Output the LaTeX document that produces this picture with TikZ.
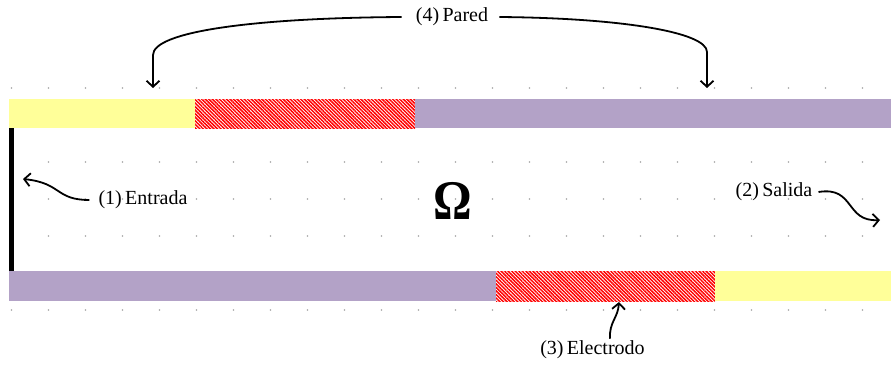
\documentclass[tikz,border=0pt]{standalone}
\usepackage{graphicx}
\usepackage{fontspec}
\setmainfont{Liberation Serif}
\usetikzlibrary{patterns.meta,arrows.meta}
\definecolor{wallyellow}{RGB}{255,255,153}
\definecolor{wallpurple}{RGB}{179,162,199}
\definecolor{dotgray}{RGB}{165,165,165}
\begin{document}
\begin{tikzpicture}[x=1pt,y=-1pt,
  lbl/.style={font=\fontsize{20}{22}\selectfont, inner sep=0pt, anchor=center},
  conn/.style={line width=1.8pt, -{Straight Barb[length=6pt,width=13pt,line width=1.8pt]}},
  yellowseg/.style={fill=wallyellow},
  purpleseg/.style={fill=wallpurple},
  electrodeseg/.style={pattern={Lines[angle=-45,distance=2.5pt,line width=1.5pt]}, pattern color=red},
  griddot/.style={fill=dotgray}]
\useasboundingbox (0,0) rectangle (891,364);
\fill[white] (0,0) rectangle (891,364);
% grid dots
\foreach \i in {0,...,23}
  \foreach \j in {0,...,6}
    \fill[griddot] (11.5+37*\i, 88+37*\j) circle (0.8pt);
% top wall
\fill[yellowseg] (9,99) rectangle (195,128);
\fill[white] (195,99) rectangle (415,128);
\fill[electrodeseg] (195,99) rectangle (415,128);
\fill[purpleseg] (415,99) rectangle (891,128);
% bottom wall
\fill[purpleseg] (9,271) rectangle (496,301);
\fill[white] (496,271) rectangle (715,301);
\fill[electrodeseg] (496,271) rectangle (715,301);
\fill[yellowseg] (715,271) rectangle (891,301);
% inlet
\fill[black] (9,128) rectangle (14,271);
% domain
\node[font=\bfseries\fontsize{56}{58}\selectfont, inner sep=0pt] (omega) at (453,201) {\scalebox{0.86}[1]{Ω}};
% labels
\node[lbl] (entrada) at (143,200) {(1)\,Entrada};
\node[lbl] (salida) at (774,192) {(2)\,Salida};
\node[lbl] (pared) at (452,17) {(4)\,Pared};
\node[lbl] (electrodo) at (592.5,350) {(3)\,Electrodo};
% free ends
\coordinate (inTip) at (23,179);
\coordinate (outTip) at (880,220);
\coordinate (wallL) at (153,88);
\coordinate (wallR) at (707,88);
\coordinate (elecTip) at (619,302);
% connectors
\draw[conn] ([xshift=-9pt]entrada.west) .. controls (55,200) and (62,183) .. (inTip);
\draw[conn] ([xshift=6pt]salida.east) .. controls (855,186) and (845,222) .. (outTip);
\draw[conn] ([xshift=-14pt]pared.west) .. controls (250,18) and (153,32) .. (153,55) -- (wallL);
\draw[conn] ([xshift=11pt]pared.east) .. controls (620,18) and (707,32) .. (707,52) -- (wallR);
\draw[conn] ([xshift=17.5pt,yshift=2pt]electrodo.north) .. controls (609,322) and (618,318) .. (elecTip);
\end{tikzpicture}
\end{document}
